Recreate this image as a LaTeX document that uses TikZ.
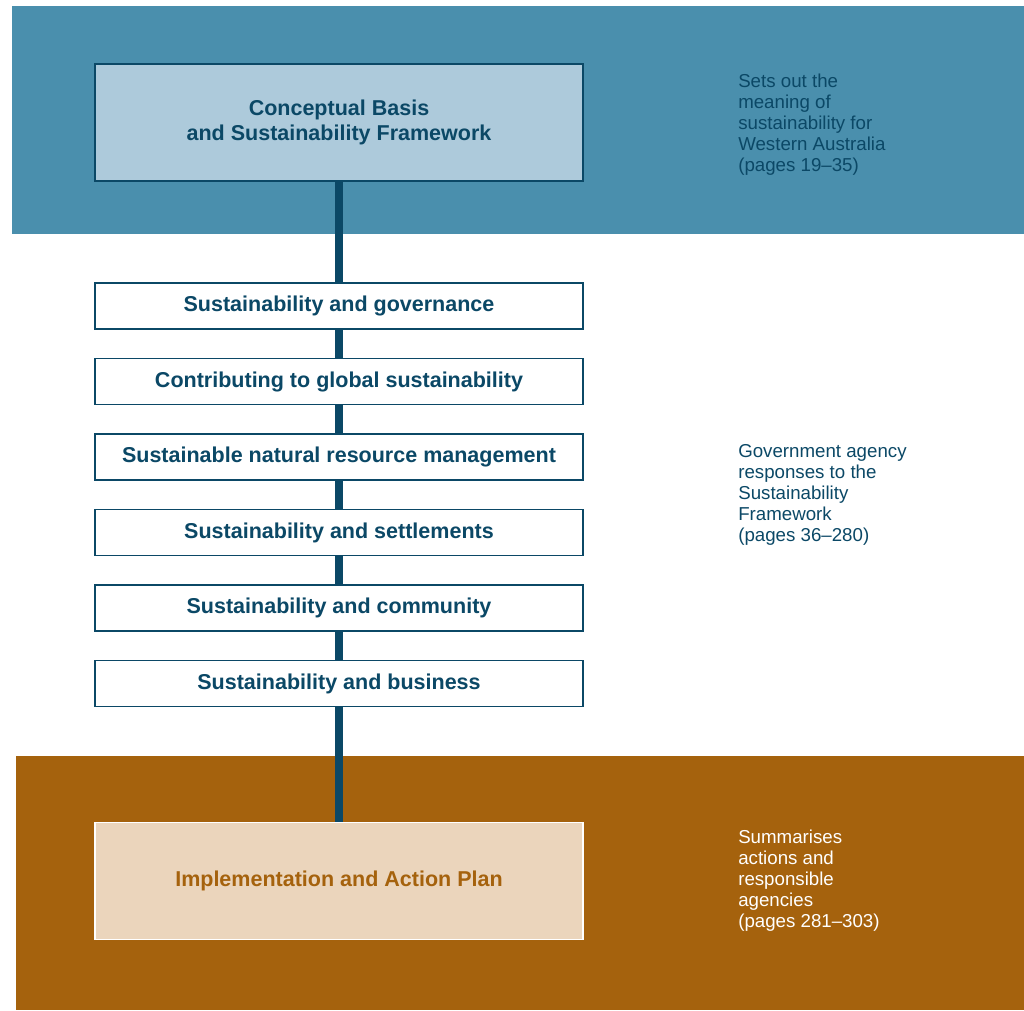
\documentclass[tikz,border=0pt]{standalone}
\usepackage{fontspec}
\setmainfont{Liberation Sans}
\usetikzlibrary{positioning,calc}

\definecolor{bandblue}{HTML}{4A8FAD}
\definecolor{boxblue}{HTML}{ADCADB}
\definecolor{navy}{HTML}{0B4866}
\definecolor{bandbrown}{HTML}{A5620D}
\definecolor{beige}{HTML}{EBD5BC}

\begin{document}
\begin{tikzpicture}[node distance=1.8875cm,
    stage/.style={rectangle,draw=navy,line width=1.4pt,fill=white,text=navy,
        minimum width=12.2cm,minimum height=1.15cm,inner sep=0pt,
        font=\fontsize{15.3}{18}\selectfont\bfseries},
    bigstage/.style={stage,minimum height=2.925cm,align=center},
    note/.style={inner sep=0pt,align=left,text=navy,
        font=\fontsize{13.3}{14.9}\selectfont},
    link/.style={draw=navy,line width=5pt}]
    \useasboundingbox (0,0) rectangle (25.6,25.25);
    % bands
    \fill[bandblue]  (0.3,19.4) rectangle (25.6,25.1);
    \fill[bandbrown] (0.4,0) rectangle (25.6,6.35);

    \node   [bigstage,fill=boxblue]  at (8.475,22.1875)      (basis) {Conceptual Basis\\and Sustainability Framework};
    \node   [stage]  [below of=basis,node distance=4.5875cm] (gov)      {Sustainability and governance};
    \node   [stage]  [below of=gov]                          (global)   {Contributing to global sustainability};
    \node   [stage]  [below of=global]                       (nrm)      {Sustainable natural resource management};
    \node   [stage]  [below of=nrm]                          (settle)   {Sustainability and settlements};
    \node   [stage]  [below of=settle]                       (comm)     {Sustainability and community};
    \node   [stage]  [below of=comm]                         (business) {Sustainability and business};
    \node   [bigstage,draw=white,fill=beige,text=bandbrown]
                     [below of=business,node distance=4.9375cm] (impl) {Implementation and Action Plan};

    \path   (basis) edge [link] (gov)
            (gov) edge [link] (global)
            (global) edge [link] (nrm)
            (nrm) edge [link] (settle)
            (settle) edge [link] (comm)
            (comm) edge [link] (business)
            (business) edge [link] (impl);

    % notes on the right
    \coordinate (mid) at ($(nrm)!0.5!(settle)$);
    \node   [note,right=3.85cm of basis,yshift=-0.05cm] (basisnote) {Sets out the\\meaning of\\sustainability for\\Western Australia\\(pages 19--35)};
    \node   [note,anchor=west] at (18.45,0 |- mid)      (govnote)   {Government agency\\responses to the\\Sustainability\\Framework\\(pages 36--280)};
    \node   [note,text=white,right=3.85cm of impl]      (implnote)  {Summarises\\actions and\\responsible\\agencies\\(pages 281--303)};
\end{tikzpicture}
\end{document}
